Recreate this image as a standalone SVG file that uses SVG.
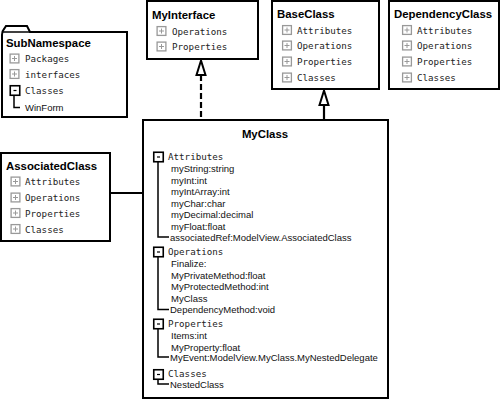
<svg xmlns="http://www.w3.org/2000/svg" xmlns:xlink="http://www.w3.org/1999/xlink" width="500" height="401" viewBox="0 0 500 401">
<style>
.box{fill:#fff;stroke:#000;stroke-width:2}
.title{font-family:"Liberation Sans",Arial,sans-serif;font-weight:bold;font-size:11.4px;fill:#000}
.mono{font-family:"DejaVu Sans Mono","Liberation Mono",monospace;font-size:9.2px;fill:#222}
.item{font-family:"Liberation Sans",Arial,sans-serif;font-size:9.5px;fill:#111}
.tree{fill:none;stroke:#000;stroke-width:1.5}
.conn{fill:none;stroke:#000;stroke-width:2.2}
</style>
<defs>
<g id="plus"><rect x="0.6" y="0.6" width="8.8" height="8.8" fill="#fff" stroke="#999" stroke-width="1.3"/><path d="M2.5 5H7.5M5 2.5V7.5" stroke="#999" stroke-width="1"/></g>
<g id="minus"><rect x="0.75" y="0.75" width="9.5" height="9.5" fill="#fff" stroke="#000" stroke-width="1.6"/><path d="M4 5.5H7" stroke="#000" stroke-width="1.2"/></g>
</defs>
<g id="connectors">
<path class="conn" d="M201 75V120" stroke-dasharray="6 3"/>
<path d="M201 60.5L205.5 75H196.5Z" fill="#fff" stroke="#000" stroke-width="2"/>
<path class="conn" d="M324 105V120"/>
<path d="M324 90.5L328.5 105H319.5Z" fill="#fff" stroke="#000" stroke-width="2"/>
<path class="conn" d="M110 193H143"/>
</g>
<g id="SubNamespace">
<path class="box" d="M2 117V35Q2 31 4 29L6 26H27L30 32H127V117Z"/>
<path d="M2 32H30" stroke="#000" stroke-width="1.5"/>
<text class="title" x="6" y="47">SubNamespace</text>
<use xlink:href="#plus" x="9.5" y="53.5"/><text class="mono" x="25" y="62">Packages</text>
<use xlink:href="#plus" x="9.5" y="69"/><text class="mono" x="25" y="77.5">interfaces</text>
<use xlink:href="#minus" x="9.5" y="85"/><text class="mono" x="25" y="93.5">Classes</text>
<path class="tree" d="M14 95.5V107.5H20"/>
<text class="item" x="25" y="110.5">WinForm</text>
</g>
<g id="MyInterface">
<rect class="box" x="147" y="1" width="111" height="58"/>
<text class="title" x="152" y="18.5">MyInterface</text>
<use xlink:href="#plus" x="156.5" y="26"/><text class="mono" x="172" y="34.5">Operations</text>
<use xlink:href="#plus" x="156.5" y="41.5"/><text class="mono" x="172" y="50">Properties</text>
</g>
<g id="BaseClass">
<rect class="box" x="272" y="1" width="107" height="88"/>
<text class="title" x="277" y="18">BaseClass</text>
<use xlink:href="#plus" x="282" y="25"/><text class="mono" x="297" y="33.5">Attributes</text>
<use xlink:href="#plus" x="282" y="40.5"/><text class="mono" x="297" y="49">Operations</text>
<use xlink:href="#plus" x="282" y="56.5"/><text class="mono" x="297" y="65">Properties</text>
<use xlink:href="#plus" x="282" y="72.5"/><text class="mono" x="297" y="81">Classes</text>
</g>
<g id="DependencyClass">
<rect class="box" x="389" y="1" width="110" height="88"/>
<text class="title" x="394" y="18">DependencyClass</text>
<use xlink:href="#plus" x="402" y="25"/><text class="mono" x="417" y="33.5">Attributes</text>
<use xlink:href="#plus" x="402" y="40.5"/><text class="mono" x="417" y="49">Operations</text>
<use xlink:href="#plus" x="402" y="56.5"/><text class="mono" x="417" y="65">Properties</text>
<use xlink:href="#plus" x="402" y="72.5"/><text class="mono" x="417" y="81">Classes</text>
</g>
<g id="AssociatedClass">
<rect class="box" x="1" y="153" width="109" height="88"/>
<text class="title" x="6" y="170">AssociatedClass</text>
<use xlink:href="#plus" x="10.5" y="176.5"/><text class="mono" x="25" y="185">Attributes</text>
<use xlink:href="#plus" x="10.5" y="192.5"/><text class="mono" x="25" y="201">Operations</text>
<use xlink:href="#plus" x="10.5" y="208"/><text class="mono" x="25" y="216.5">Properties</text>
<use xlink:href="#plus" x="10.5" y="224"/><text class="mono" x="25" y="232.5">Classes</text>
</g>
<g id="MyClass">
<rect class="box" x="143" y="120" width="245" height="278"/>
<text class="title" x="265" y="138" text-anchor="middle">MyClass</text>
<use xlink:href="#minus" x="153" y="151.5"/><text class="mono" x="168" y="160">Attributes</text>
<path class="tree" d="M158 162V237H169"/>
<text class="item" x="171" y="172">myString:string</text>
<text class="item" x="171" y="183.5">myInt:int</text>
<text class="item" x="171" y="195">myIntArray:int</text>
<text class="item" x="171" y="206.5">myChar:char</text>
<text class="item" x="171" y="218">myDecimal:decimal</text>
<text class="item" x="171" y="229.5">myFloat:float</text>
<text class="item" x="170" y="240.5">associatedRef:ModelView.AssociatedClass</text>
<use xlink:href="#minus" x="153" y="246.5"/><text class="mono" x="168" y="255">Operations</text>
<path class="tree" d="M158 257V309.5H169"/>
<text class="item" x="171" y="267">Finalize:</text>
<text class="item" x="171" y="278.5">MyPrivateMethod:float</text>
<text class="item" x="171" y="290">MyProtectedMethod:int</text>
<text class="item" x="171" y="301.5">MyClass</text>
<text class="item" x="170" y="313">DependencyMethod:void</text>
<use xlink:href="#minus" x="153" y="318.5"/><text class="mono" x="168" y="327">Properties</text>
<path class="tree" d="M158 329V357H169"/>
<text class="item" x="171" y="339">Items:int</text>
<text class="item" x="171" y="350.5">MyProperty:float</text>
<text class="item" x="170" y="361">MyEvent:ModelView.MyClass.MyNestedDelegate</text>
<use xlink:href="#minus" x="153" y="369"/><text class="mono" x="168" y="377">Classes</text>
<path class="tree" d="M158 379.5V384H169"/>
<text class="item" x="170" y="387.5">NestedClass</text>
</g>
</svg>
